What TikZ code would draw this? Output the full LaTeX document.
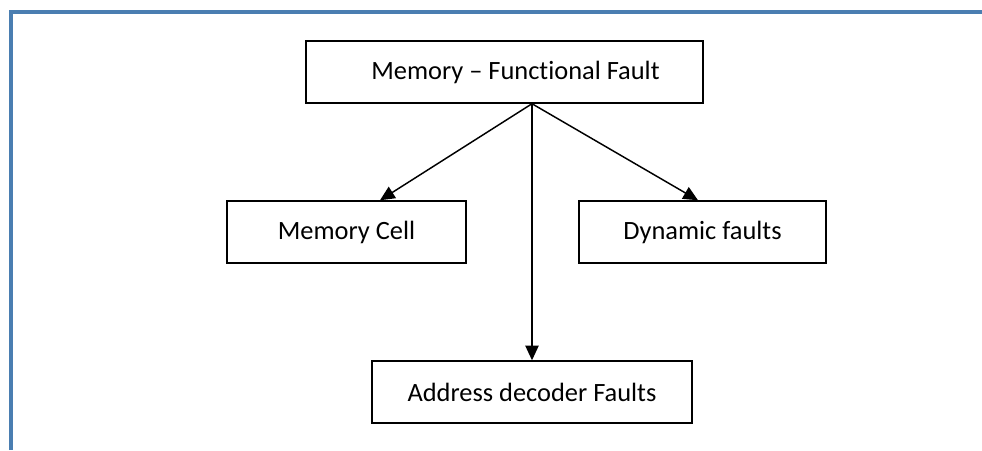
\documentclass[tikz,border=0pt]{standalone}
\usepackage{fontspec}
\setmainfont[Ligatures={NoCommon}]{Carlito}
\usetikzlibrary{arrows.meta,calc}
\definecolor{framec}{RGB}{74,126,177}
\tikzset{
  box/.style={draw=black,line width=1.1pt,rectangle,minimum height=62*0.75pt,inner sep=0pt,font=\fontsize{19.8pt}{23pt}\selectfont},
  conn/.style={line width=1.1pt,-{Triangle[length=11pt,width=10pt]}}
}
\begin{document}
\begin{tikzpicture}[x=0.75pt,y=-0.75pt]
\useasboundingbox (0,0) rectangle (982,450);
\draw[framec,line width=2.3pt] (11,450) -- (11,12) -- (982,12);
\node[box,minimum width=397*0.75pt] (top) at (504.5,72) {\hspace*{16.5pt}Memory – Functional Fault};
\node[box,minimum width=239*0.75pt] (cell) at (346.5,232) {Memory Cell};
\node[box,minimum width=247*0.75pt] (dyn) at (702.5,232) {Dynamic faults};
\node[box,minimum width=320*0.75pt] (addr) at (532,392) {Address decoder Faults};
\coordinate (src) at ($(top.south)+(27.5*0.75pt,0)$);
\draw[conn] (src) -- ($(cell.north)+(33.5*0.75pt,0)$);
\draw[conn] (src) -- ($(dyn.north)+(-4.5*0.75pt,0)$);
\draw[conn] (src) -- (addr.north);
\end{tikzpicture}
\end{document}
